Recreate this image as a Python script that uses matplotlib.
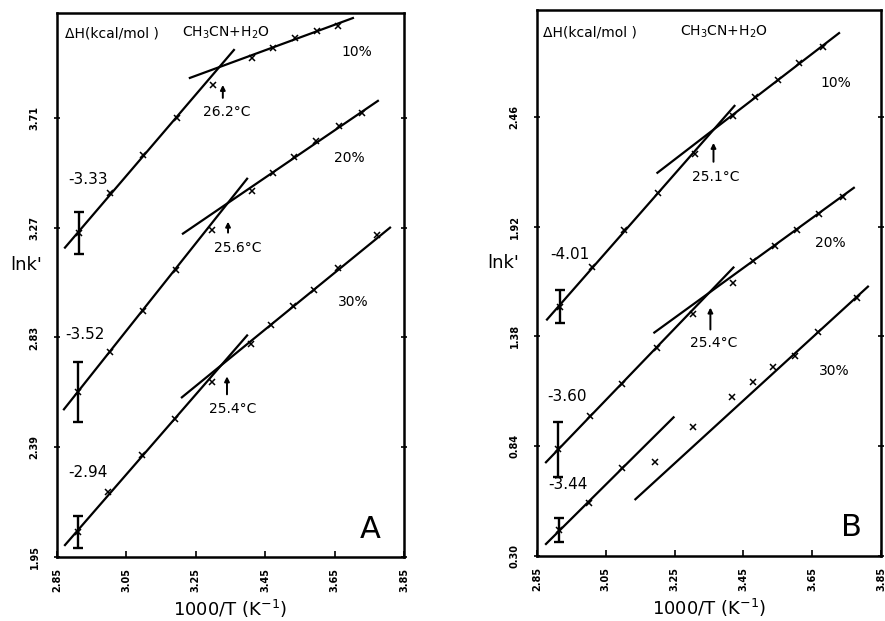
import numpy as np
import matplotlib
matplotlib.use('Agg')
import matplotlib.pyplot as plt

# ---- panel A data ----
a_x10 = [2.913, 3.003, 3.098, 3.196, 3.300, 3.412, 3.472, 3.536, 3.599, 3.660]
a_y10 = [3.250, 3.410, 3.562, 3.710, 3.842, 3.950, 3.990, 4.030, 4.058, 4.078]
a_x20 = [2.910, 3.003, 3.098, 3.193, 3.297, 3.412, 3.472, 3.533, 3.596, 3.663, 3.729]
a_y20 = [2.610, 2.770, 2.934, 3.102, 3.262, 3.418, 3.490, 3.554, 3.618, 3.678, 3.730]
a_x30 = [2.910, 2.997, 3.095, 3.190, 3.297, 3.409, 3.467, 3.530, 3.591, 3.660, 3.772]
a_y30 = [2.050, 2.210, 2.358, 2.502, 2.650, 2.802, 2.878, 2.954, 3.022, 3.110, 3.242]
a_err = [0.084, 0.120, 0.064]
# fitted line segments: ([x0, x1], [y0, y1])
a_lines = [
    ([2.873, 3.360], [3.190, 3.982]), ([3.233, 3.703], [3.870, 4.110]),
    ([2.870, 3.398], [2.542, 3.466]), ([3.213, 3.775], [3.246, 3.778]),
    ([2.873, 3.398], [1.998, 2.838]), ([3.210, 3.810], [2.590, 3.270]),
]
a_yticks = [1.95, 2.39, 2.83, 3.27, 3.71]
a_dh = ['-3.33', '-3.52', '-2.94']
a_trans = ['26.2°C', '25.6°C', '25.4°C']

# ---- panel B data ----
b_x10 = [2.917, 3.010, 3.104, 3.203, 3.308, 3.421, 3.483, 3.550, 3.611, 3.681]
b_y10 = [1.527, 1.719, 1.905, 2.087, 2.278, 2.465, 2.558, 2.642, 2.725, 2.804]
b_x20 = [2.911, 3.005, 3.098, 3.200, 3.302, 3.419, 3.477, 3.541, 3.605, 3.669, 3.739]
b_y20 = [0.825, 0.987, 1.144, 1.321, 1.488, 1.645, 1.753, 1.827, 1.905, 1.984, 2.067]
b_x30 = [2.914, 3.002, 3.098, 3.194, 3.302, 3.416, 3.477, 3.535, 3.599, 3.666, 3.780]
b_y30 = [0.427, 0.560, 0.732, 0.761, 0.933, 1.080, 1.154, 1.228, 1.282, 1.404, 1.571]
b_err = [0.083, 0.135, 0.060]
b_lines = [
    ([2.879, 3.424], [1.463, 2.514]), ([3.200, 3.728], [2.185, 2.872]),
    ([2.876, 3.421], [0.761, 1.719]), ([3.191, 3.771], [1.399, 2.111]),
    ([2.876, 3.247], [0.359, 0.982]), ([3.136, 3.812], [0.579, 1.625]),
]
b_yticks = [0.30, 0.84, 1.38, 1.92, 2.46]
b_dh = ['-4.01', '-3.60', '-3.44']
b_trans = ['25.1°C', '25.4°C']

xticks = [2.85, 3.05, 3.25, 3.45, 3.65, 3.85]
pct = ['10%', '20%', '30%']

fig = plt.figure(figsize=(8.85, 6.21), dpi=100)
axA = fig.add_axes([0.0644, 0.103, 0.392, 0.876])
axB = fig.add_axes([0.6068, 0.1047, 0.3887, 0.879])


def panel(ax, series, errs, lines, yticks, ylim):
    for (xs, ys), e in zip(series, errs):
        ax.plot(xs, ys, 'x', color='k', ms=4, mew=1.1)
        ax.errorbar(xs[0], ys[0], yerr=e, fmt='none', ecolor='k',
                    elinewidth=1.7, capsize=3.5, capthick=1.7)
    for lx, ly in lines:
        ax.plot(lx, ly, 'k-', lw=1.6)
    ax.set_xlim(2.85, 3.85)
    ax.set_ylim(*ylim)
    ax.set_xticks(xticks)
    ax.set_xticklabels(['%.2f' % t for t in xticks], rotation=90,
                       fontsize=7, fontweight='bold')
    ax.set_yticks(yticks)
    ax.set_yticklabels(['%.2f' % t for t in yticks], rotation=90,
                       fontsize=7, fontweight='bold', va='center')
    ax.tick_params(axis='x', direction='in', length=4, width=1.2, pad=8)
    ax.tick_params(axis='y', direction='inout', length=5, width=1.2, pad=10,
                   right=True)
    for s in ax.spines.values():
        s.set_linewidth(1.8)
    ax.set_xlabel('1000/T (K$^{-1}$)', fontsize=13, labelpad=4)


def arrow(ax, x, y0, y1):
    ax.annotate('', xy=(x, y1), xytext=(x, y0),
                arrowprops=dict(arrowstyle='-|>', lw=1.4, color='k',
                                mutation_scale=7, shrinkA=0, shrinkB=0))


# ---- A ----
panel(axA, [(a_x10, a_y10), (a_x20, a_y20), (a_x30, a_y30)], a_err, a_lines,
      a_yticks, (1.95, 4.13))
axA.text(2.873, 4.05, 'ΔH(kcal/mol )', fontsize=10, va='center')
axA.text(3.210, 4.05, 'CH$_3$CN+H$_2$O', fontsize=10, va='center')
for t, (x, y) in zip(pct, [(3.715, 3.974), (3.694, 3.55), (3.703, 2.974)]):
    axA.text(x, y, t, fontsize=10, ha='center', va='center')
for t, (x, y) in zip(a_dh, [(2.939, 3.462), (2.931, 2.842), (2.939, 2.29)]):
    axA.text(x, y, t, fontsize=11, ha='center', va='center')
for t, (x, y) in zip(a_trans, [(3.340, 3.734), (3.372, 3.19), (3.357, 2.542)]):
    axA.text(x, y, t, fontsize=10, ha='center', va='center')
arrow(axA, 3.328, 3.79, 3.842)
arrow(axA, 3.343, 3.25, 3.294)
arrow(axA, 3.340, 2.602, 2.674)
axA.text(3.752, 2.062, 'A', fontsize=22, ha='center', va='center')
axA.set_ylabel("lnk'", fontsize=13, rotation=0, labelpad=6)
axA.yaxis.set_label_coords(-0.088, 0.52)

# ---- B ----
panel(axB, [(b_x10, b_y10), (b_x20, b_y20), (b_x30, b_y30)], b_err, b_lines,
      b_yticks, (0.30, 2.985))
axB.text(2.868, 2.877, 'ΔH(kcal/mol )', fontsize=10, va='center')
axB.text(3.267, 2.877, 'CH$_3$CN+H$_2$O', fontsize=10, va='center')
for t, (x, y) in zip(pct, [(3.719, 2.627), (3.704, 1.841), (3.713, 1.208)]):
    axB.text(x, y, t, fontsize=10, ha='center', va='center')
for t, (x, y) in zip(b_dh, [(2.946, 1.782), (2.937, 1.085), (2.940, 0.653)]):
    axB.text(x, y, t, fontsize=11, ha='center', va='center')
for t, (x, y) in zip(b_trans, [(3.369, 2.165), (3.363, 1.350)]):
    axB.text(x, y, t, fontsize=10, ha='center', va='center')
arrow(axB, 3.363, 2.239, 2.332)
arrow(axB, 3.354, 1.414, 1.522)
axB.text(3.763, 0.442, 'B', fontsize=22, ha='center', va='center')
axB.set_ylabel("lnk'", fontsize=13, rotation=0, labelpad=6)
axB.yaxis.set_label_coords(-0.098, 0.52)

fig.savefig('out.png', dpi=100)
